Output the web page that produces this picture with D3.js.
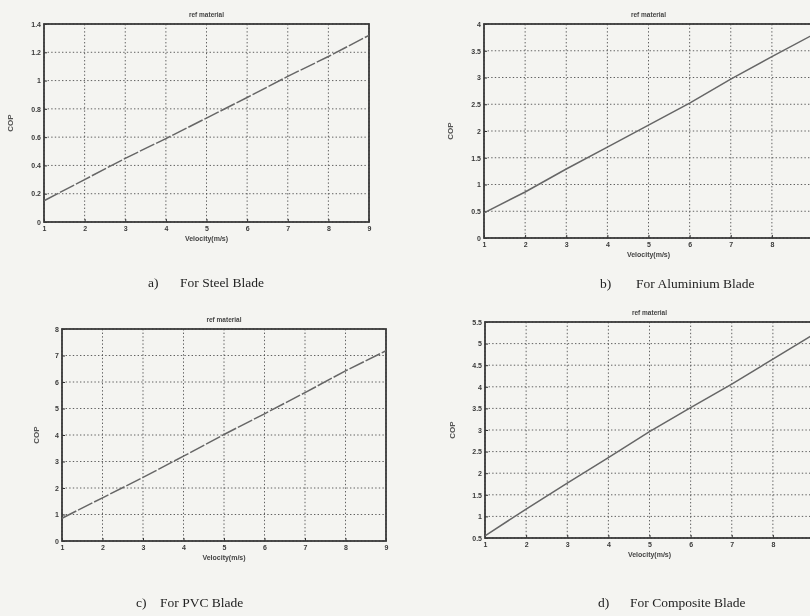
<!DOCTYPE html>
<html>
<head>
<meta charset="utf-8">
<script src="https://cdn.jsdelivr.net/npm/d3@7/dist/d3.min.js"></script>
<style>
  html, body { margin: 0; padding: 0; background: #f4f4f1; }
  svg { display: block; }
  .tick text { font-family: "Liberation Sans", Arial, sans-serif; font-size: 7px; font-weight: bold; fill: #3a3a3a; }
</style>
</head>
<body>
<svg id="chart" width="810" height="616"></svg>
<script>
// Velocity samples shared by all four blade materials
const velocity = [1, 2, 3, 4, 5, 6, 7, 8, 9];

// Coefficient of performance for each blade material
const copSteel     = [0.15, 0.30, 0.45, 0.59, 0.735, 0.88, 1.03, 1.17, 1.32];
const copAluminium = [0.47, 0.86, 1.29, 1.70, 2.11, 2.52, 2.97, 3.39, 3.80];
const copPVC       = [0.86, 1.63, 2.40, 3.20, 4.02, 4.80, 5.60, 6.42, 7.18];
const copComposite = [0.55, 1.17, 1.77, 2.36, 2.96, 3.52, 4.06, 4.64, 5.22];

// Tick values for each panel
const xTicks          = [1, 2, 3, 4, 5, 6, 7, 8, 9];
const yTicksSteel     = [0, 0.2, 0.4, 0.6, 0.8, 1, 1.2, 1.4];
const yTicksAluminium = [0, 0.5, 1, 1.5, 2, 2.5, 3, 3.5, 4];
const yTicksPVC       = [0, 1, 2, 3, 4, 5, 6, 7, 8];
const yTicksComposite = [0.5, 1, 1.5, 2, 2.5, 3, 3.5, 4, 4.5, 5, 5.5];

// Text
const plotTitle  = "ref material";
const xAxisTitle = "Velocity(m/s)";
const yAxisTitle = "COP";
const captionLetters = ["a)", "b)", "c)", "d)"];
const captionTexts   = ["For Steel Blade", "For Aluminium Blade", "For PVC Blade", "For Composite Blade"];

const W = 810;
const svg = d3.select("#chart");

const defs = svg.append("defs");
defs.append("filter").attr("id", "soft")
  .append("feGaussianBlur").attr("stdDeviation", 0.35);

// Panel frames and caption placement
const panels = [
  { values: copSteel,     yTicks: yTicksSteel,     yDomain: [0, 1.4],
    left: 44,  right: 369, top: 24,  bottom: 222, ylabX: 31, dash: "16,2",
    capLetterX: 148, capTextX: 180, capY: 287 },
  { values: copAluminium, yTicks: yTicksAluminium, yDomain: [0, 4],
    left: 484, right: 813, top: 24,  bottom: 238, ylabX: 31, dash: null,
    capLetterX: 600, capTextX: 636, capY: 288 },
  { values: copPVC,       yTicks: yTicksPVC,       yDomain: [0, 8],
    left: 62,  right: 386, top: 329, bottom: 541, ylabX: 23, dash: "16,2",
    capLetterX: 136, capTextX: 160, capY: 607 },
  { values: copComposite, yTicks: yTicksComposite, yDomain: [0.5, 5.5],
    left: 485, right: 814, top: 322, bottom: 538, ylabX: 30, dash: null,
    capLetterX: 598, capTextX: 630, capY: 607 }
];

panels.forEach((p, i) => {
  const x = d3.scaleLinear().domain([1, 9]).range([p.left, p.right]);
  const y = d3.scaleLinear().domain(p.yDomain).range([p.bottom, p.top]);
  const g = svg.append("g").attr("filter", "url(#soft)");

  // Dotted grid
  g.append("g").selectAll("line").data(xTicks).join("line")
    .attr("x1", d => x(d)).attr("x2", d => x(d))
    .attr("y1", p.top).attr("y2", p.bottom)
    .attr("stroke", "#505050").attr("stroke-width", 0.9)
    .attr("stroke-dasharray", "1.4,2.2");
  g.append("g").selectAll("line").data(p.yTicks).join("line")
    .attr("x1", p.left).attr("x2", p.right)
    .attr("y1", d => y(d)).attr("y2", d => y(d))
    .attr("stroke", "#505050").attr("stroke-width", 0.9)
    .attr("stroke-dasharray", "1.4,2.2");

  // Axes (only ticks whose labels fit on the page are labelled)
  const visibleX = xTicks.filter(d => x(d) + 3 <= W);
  const xAxis = g.append("g").attr("transform", `translate(0,${p.bottom})`)
    .call(d3.axisBottom(x).tickValues(visibleX).tickSize(-3).tickPadding(4).tickFormat(d3.format("d")));
  const yAxis = g.append("g").attr("transform", `translate(${p.left},0)`)
    .call(d3.axisLeft(y).tickValues(p.yTicks).tickSize(-3).tickPadding(3).tickFormat(d3.format("")));
  [xAxis, yAxis].forEach(a => {
    a.select(".domain").remove();
    a.selectAll(".tick line").attr("stroke", "#333");
  });

  // Frame
  g.append("rect")
    .attr("x", p.left).attr("y", p.top)
    .attr("width", p.right - p.left).attr("height", p.bottom - p.top)
    .attr("fill", "none").attr("stroke", "#3a3a3a").attr("stroke-width", 1.8);

  // COP curve
  const line = d3.line().x((d, k) => x(velocity[k])).y(d => y(d));
  g.append("path").datum(p.values)
    .attr("d", line)
    .attr("fill", "none").attr("stroke", "#666").attr("stroke-width", 1.5)
    .attr("stroke-dasharray", p.dash);

  // Titles
  const cx = (p.left + p.right) / 2;
  g.append("text").attr("x", cx).attr("y", p.top - 7)
    .attr("text-anchor", "middle")
    .style("font-family", "Liberation Sans, Arial, sans-serif")
    .style("font-size", "6.5px").style("font-weight", "bold").attr("fill", "#444")
    .text(plotTitle);
  g.append("text").attr("x", cx).attr("y", p.bottom + 19)
    .attr("text-anchor", "middle")
    .style("font-family", "Liberation Sans, Arial, sans-serif")
    .style("font-size", "7px").style("font-weight", "bold").attr("fill", "#444")
    .text(xAxisTitle);
  const ym = (p.top + p.bottom) / 2;
  g.append("text")
    .attr("transform", `translate(${p.left - p.ylabX},${ym}) rotate(-90)`)
    .attr("text-anchor", "middle")
    .style("font-family", "Liberation Sans, Arial, sans-serif")
    .style("font-size", "8px").style("font-weight", "bold").attr("fill", "#555")
    .text(yAxisTitle);

  // Caption below each panel
  const cap = svg.append("g").attr("filter", "url(#soft)");
  cap.append("text").attr("x", p.capLetterX).attr("y", p.capY)
    .style("font-family", "Liberation Serif, Times New Roman, serif")
    .style("font-size", "13.5px").attr("fill", "#222")
    .text(captionLetters[i]);
  cap.append("text").attr("x", p.capTextX).attr("y", p.capY)
    .style("font-family", "Liberation Serif, Times New Roman, serif")
    .style("font-size", "13.5px").attr("fill", "#222")
    .text(captionTexts[i]);
});
</script>
</body>
</html>
